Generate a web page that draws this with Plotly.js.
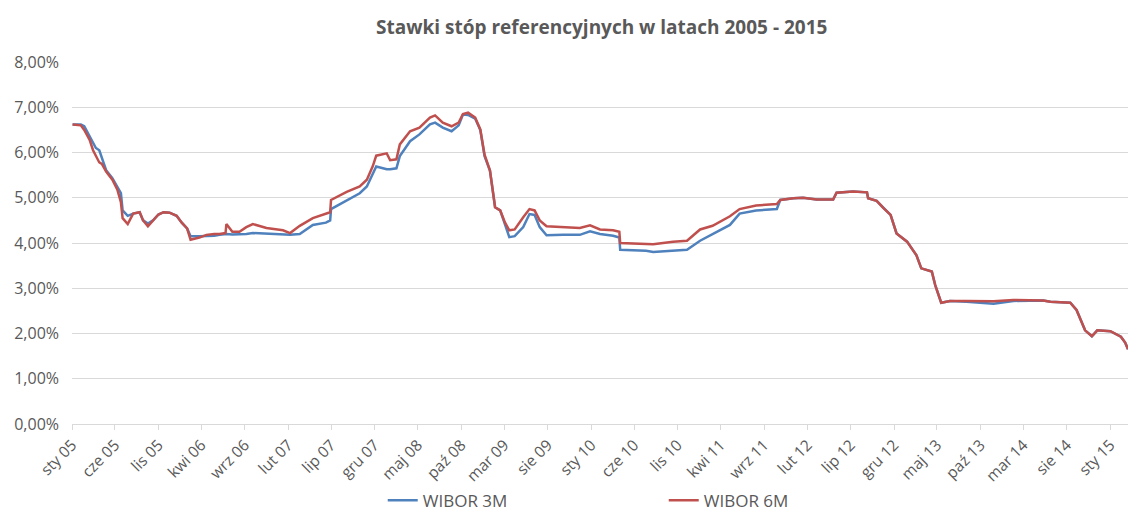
<!DOCTYPE html>
<html>
<head>
<meta charset="utf-8">
<script src="https://cdn.plot.ly/plotly-3.0.1.min.js"></script>
<style>html,body{margin:0;padding:0;background:#fff;}#chart{width:1129px;height:514px;}</style>
</head>
<body>
<div id="chart"></div>
<script>
var dates = [
"2005-01-03","2005-02-01","2005-02-13","2005-03-04","2005-03-16","2005-03-26","2005-04-07","2005-04-16","2005-05-01","2005-05-23",
"2005-06-10","2005-06-22","2005-06-28","2005-07-16","2005-08-04","2005-08-27","2005-09-08","2005-09-25","2005-10-13","2005-11-01",
"2005-11-19","2005-12-10","2006-01-04","2006-01-22","2006-02-10","2006-02-22","2006-03-25","2006-04-19","2006-05-16","2006-06-04",
"2006-06-25","2006-06-28","2006-07-19","2006-08-13","2006-09-06","2006-09-29","2006-11-16","2007-01-13","2007-02-07","2007-03-13",
"2007-04-28","2007-06-13","2007-06-28","2007-07-01","2007-08-25","2007-10-10","2007-11-04","2007-11-25","2007-12-07","2008-01-13",
"2008-01-25","2008-02-16","2008-02-28","2008-04-04","2008-05-07","2008-06-13","2008-07-01","2008-07-28","2008-08-28","2008-09-22",
"2008-10-07","2008-10-25","2008-11-19","2008-12-07","2008-12-22","2009-01-10","2009-01-22","2009-01-28","2009-02-15","2009-03-04",
"2009-03-19","2009-04-07","2009-05-07","2009-05-29","2009-06-16","2009-07-04","2009-07-28","2009-09-25","2009-11-22","2009-12-28",
"2010-02-01","2010-03-19","2010-04-10","2010-04-13","2010-07-13","2010-08-07","2010-10-16","2010-12-04","2011-01-19","2011-03-04",
"2011-05-04","2011-06-07","2011-08-04","2011-10-16","2011-10-28","2011-12-13","2012-01-16","2012-03-04","2012-05-01","2012-05-13",
"2012-07-10","2012-08-28","2012-09-01","2012-10-01","2012-10-25","2012-11-19","2012-12-10","2013-01-16","2013-02-18","2013-03-07",
"2013-04-13","2013-04-25","2013-05-16","2013-06-16","2013-08-13","2013-11-16","2014-01-25","2014-05-10","2014-06-04","2014-08-13",
"2014-09-04","2014-10-04","2014-10-28","2014-11-16","2015-01-01","2015-02-07","2015-02-22","2015-03-04"
];
var wibor3m = [
6.62,6.62,6.58,6.35,6.20,6.10,6.05,5.90,5.61,5.43,
5.25,5.10,4.72,4.60,4.65,4.68,4.50,4.43,4.50,4.63,
4.68,4.67,4.60,4.45,4.32,4.15,4.15,4.15,4.16,4.18,
4.20,4.20,4.19,4.19,4.20,4.22,4.20,4.19,4.18,4.20,
4.40,4.45,4.50,4.75,4.95,5.10,5.25,5.55,5.69,5.63,
5.63,5.65,5.92,6.25,6.40,6.62,6.66,6.55,6.47,6.60,
6.84,6.83,6.75,6.50,5.92,5.60,5.01,4.79,4.72,4.43,
4.13,4.15,4.35,4.64,4.62,4.35,4.17,4.18,4.18,4.26,
4.20,4.16,4.12,3.85,3.83,3.80,3.83,3.85,4.05,4.20,
4.40,4.65,4.72,4.75,4.95,4.99,5.00,4.96,4.96,5.11,
5.14,5.12,4.99,4.93,4.77,4.62,4.21,4.03,3.73,3.44,
3.37,3.07,2.68,2.72,2.70,2.66,2.72,2.73,2.70,2.68,
2.52,2.07,1.94,2.07,2.05,1.93,1.80,1.65
];
var wibor6m = [
6.62,6.60,6.50,6.28,6.05,5.94,5.78,5.75,5.58,5.40,
5.17,4.90,4.55,4.42,4.65,4.68,4.50,4.37,4.50,4.63,
4.68,4.67,4.60,4.45,4.32,4.07,4.12,4.18,4.20,4.20,
4.22,4.42,4.25,4.25,4.35,4.42,4.33,4.28,4.22,4.38,
4.55,4.66,4.68,4.95,5.13,5.25,5.40,5.70,5.93,5.98,
5.83,5.85,6.18,6.47,6.55,6.77,6.82,6.66,6.58,6.66,
6.85,6.88,6.77,6.51,5.95,5.60,5.01,4.79,4.72,4.45,
4.28,4.30,4.57,4.75,4.72,4.50,4.37,4.35,4.33,4.39,
4.30,4.28,4.25,4.00,3.98,3.97,4.03,4.05,4.30,4.38,
4.59,4.75,4.83,4.86,4.95,4.99,5.00,4.96,4.96,5.11,
5.14,5.12,4.99,4.93,4.77,4.62,4.21,4.03,3.73,3.44,
3.37,3.07,2.68,2.72,2.72,2.71,2.74,2.73,2.70,2.68,
2.52,2.07,1.94,2.07,2.05,1.93,1.80,1.65
];
var tickDates = ["2005-01-01","2005-06-01","2005-11-01","2006-04-01","2006-09-01","2007-02-01","2007-07-01","2007-12-01","2008-05-01","2008-10-01","2009-03-01","2009-08-01","2010-01-01","2010-06-01","2010-11-01","2011-04-01","2011-09-01","2012-02-01","2012-07-01","2012-12-01","2013-05-01","2013-10-01","2014-03-01","2014-08-01","2015-01-01"];
var tickLabels = ["sty 05","cze 05","lis 05","kwi 06","wrz 06","lut 07","lip 07","gru 07","maj 08","paź 08","mar 09","sie 09","sty 10","cze 10","lis 10","kwi 11","wrz 11","lut 12","lip 12","gru 12","maj 13","paź 13","mar 14","sie 14","sty 15"];
var yTicks = [0,1,2,3,4,5,6,7,8];
var yTickLabels = ["0,00%","1,00%","2,00%","3,00%","4,00%","5,00%","6,00%","7,00%","8,00%"];

var txtColor = "#595959";
var fontFam = "'Open Sans', 'Liberation Sans', sans-serif";

var traces = [
  {x: dates, y: wibor3m, type: "scatter", mode: "lines", name: "WIBOR 3M",
   line: {color: "#4F81BD", width: 2.5}},
  {x: dates, y: wibor6m, type: "scatter", mode: "lines", name: "WIBOR 6M",
   line: {color: "#C0504D", width: 2.5}}
];

var layout = {
  width: 1129, height: 514,
  margin: {l: 72, r: 1, t: 62, b: 90},
  paper_bgcolor: "#fff", plot_bgcolor: "#fff",
  font: {family: fontFam, color: txtColor, size: 15},
  title: {text: "Stawki stóp referencyjnych w latach 2005 - 2015",
          font: {family: fontFam, size: 19, color: txtColor, weight: "bold"},
          x: 0.533, xref: "container", xanchor: "center", y: 0.947, yref: "container", yanchor: "middle"},
  xaxis: {type: "date", range: ["2005-01-01", "2015-03-04"],
          tickvals: tickDates, ticktext: tickLabels, tickangle: -45,
          showgrid: false, zeroline: false, showline: true, linecolor: "#D9D9D9", linewidth: 1,
          ticks: "outside", ticklen: 5, tickcolor: "#D9D9D9",
          tickfont: {size: 15.5, color: txtColor, family: fontFam}},
  yaxis: {range: [0, 8], tickvals: yTicks, ticktext: yTickLabels,
          showgrid: true, gridcolor: "#D9D9D9", gridwidth: 1, zeroline: false,
          ticks: "", ticklabelstandoff: 12,
          tickfont: {size: 16, color: txtColor, family: fontFam}},
  showlegend: true,
  legend: {orientation: "h", xref: "container", yref: "container", x: 0.339, xanchor: "left",
           y: 0.026, yanchor: "middle", entrywidth: 236, entrywidthmode: "pixels",
           font: {size: 17, color: txtColor, family: fontFam}, traceorder: "normal"}
};

Plotly.newPlot("chart", traces, layout, {displayModeBar: false, staticPlot: true});
</script>
</body>
</html>
